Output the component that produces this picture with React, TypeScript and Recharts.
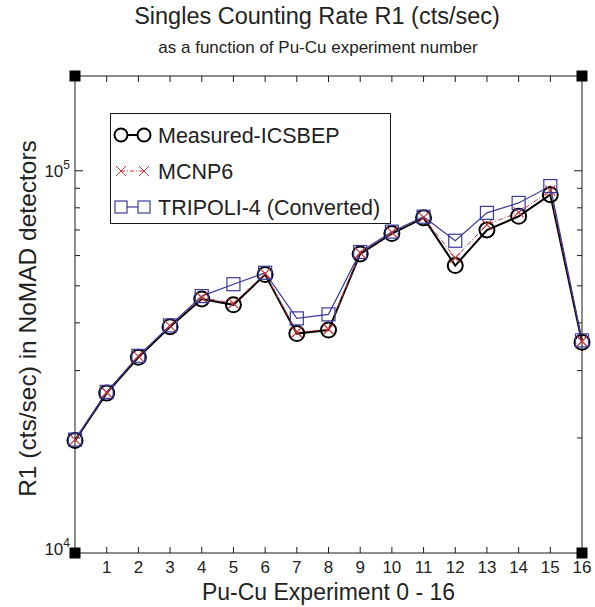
import React from "react";
import { LineChart, Line, XAxis, YAxis, Legend } from "recharts";

// Pu-Cu experiment number 0 - 16
const experiments = [0, 1, 2, 3, 4, 5, 6, 7, 8, 9, 10, 11, 12, 13, 14, 15, 16];

// singles counting rate R1 (cts/sec)
const measured = [19700, 26200, 32500, 39100, 46200, 44600, 53500, 37500, 38300, 60600, 68500, 75300, 56500, 70000, 76000, 86600, 35600];
const mcnp6 = [19800, 26300, 32700, 39300, 46600, 45000, 53800, 37800, 38500, 61000, 69000, 75500, 59200, 72300, 77800, 88700, 35800];
const tripoli = [19800, 26400, 32800, 39400, 47000, 50500, 54100, 41100, 42100, 61300, 69300, 75800, 65600, 77600, 82400, 91200, 36000];

const seriesNames = ["Measured-ICSBEP", "MCNP6", "TRIPOLI-4 (Converted)"];

const xTicks = [0, 1, 2, 3, 4, 5, 6, 7, 8, 9, 10, 11, 12, 13, 14, 15, 16];
const yTicks = [10000, 20000, 30000, 40000, 50000, 60000, 70000, 80000, 90000, 100000];
const yLabelled = [10000, 100000];
const yDomain = [10000, 177000];

const data = experiments.map((e, i) => ({
  exp: e,
  measured: measured[i],
  mcnp6: mcnp6[i],
  tripoli: tripoli[i],
}));

const FONT = '"Liberation Sans", Arial, Helvetica, sans-serif';
const INK = "#1a1a1a";
const RED = "#cc3333";
const BLUE = "#3a3a9c";

const Corner = ({ x, y }: { x: number; y: number }) => (
  <rect x={x - 5.5} y={y - 5.5} width={11} height={11} fill="#000" />
);

const isEnd = (v: number) => v === xTicks[0] || v === xTicks[xTicks.length - 1];

const BottomTick = (props: any) => {
  const { x, y, payload } = props;
  const v = payload.value;
  return (
    <g>
      {isEnd(v) ? <Corner x={x} y={y} /> : <line x1={x} y1={y} x2={x} y2={y - 6} stroke={INK} />}
      {v !== 0 && (
        <text x={x} y={y + 20} textAnchor="middle" fontSize={17} fill="#222" fontFamily={FONT}>
          {v}
        </text>
      )}
    </g>
  );
};

const TopTick = (props: any) => {
  const { x, y, payload } = props;
  const v = payload.value;
  return isEnd(v) ? <Corner x={x} y={y} /> : <line x1={x} y1={y} x2={x} y2={y + 6} stroke={INK} />;
};

const LeftTick = (props: any) => {
  const { x, y, payload } = props;
  const v = payload.value;
  const major = yLabelled.includes(v);
  return (
    <g>
      {v !== 10000 && <line x1={x} y1={y} x2={x + (major ? 8 : 5)} y2={y} stroke={INK} />}
      {major && (
        <text x={x - 5} y={v === 10000 ? y + 2 : y + 6} textAnchor="end" fontSize={17} fill="#222" fontFamily={FONT}>
          <tspan>10</tspan>
          <tspan dy={-8} fontSize={12}>
            {Math.round(Math.log10(v))}
          </tspan>
        </text>
      )}
    </g>
  );
};

const RightTick = (props: any) => {
  const { x, y, payload } = props;
  const v = payload.value;
  if (v === 10000) return <g />;
  const major = yLabelled.includes(v);
  return <line x1={x} y1={y} x2={x - (major ? 8 : 5)} y2={y} stroke={INK} />;
};

const YLabel = ({ viewBox }: any) => {
  const cx = viewBox.x + 13;
  const cy = viewBox.y + viewBox.height / 2 + 4;
  return (
    <text
      x={cx}
      y={cy + 8}
      transform={`rotate(-90 ${cx} ${cy})`}
      textAnchor="middle"
      fontSize={24.5}
      fill="#222"
      fontFamily={FONT}
    >
      R1 (cts/sec) in NoMAD detectors
    </text>
  );
};

const icon = (i: number, y: number) => {
  const a = 11;
  const b = 34;
  if (i === 0)
    return (
      <g>
        <line x1={a} y1={y} x2={b} y2={y} stroke="#000" strokeWidth={2} />
        <circle cx={a} cy={y} r={6.5} fill="#fff" stroke="#000" strokeWidth={2} />
        <circle cx={b} cy={y} r={6.5} fill="#fff" stroke="#000" strokeWidth={2} />
      </g>
    );
  if (i === 1)
    return (
      <g stroke={RED} strokeWidth={1}>
        <line x1={a} y1={y} x2={b} y2={y} strokeDasharray="4 2 1 2" />
        <path d={`M${a - 5},${y - 5}L${a + 5},${y + 5}M${a - 5},${y + 5}L${a + 5},${y - 5}`} />
        <path d={`M${b - 5},${y - 5}L${b + 5},${y + 5}M${b - 5},${y + 5}L${b + 5},${y - 5}`} />
      </g>
    );
  return (
    <g stroke={BLUE} strokeWidth={1.2}>
      <line x1={a} y1={y} x2={b} y2={y} />
      <rect x={a - 6} y={y - 6} width={12} height={12} fill="#fff" />
      <rect x={b - 6} y={y - 6} width={12} height={12} fill="#fff" />
    </g>
  );
};

const LegendBox = () => (
  <svg width={281} height={111} style={{ display: "block" }}>
    <rect x={0.5} y={0.5} width={280} height={110} fill="#fff" stroke={INK} />
    {seriesNames.map((name, i) => {
      const y = 22 + i * 36;
      return (
        <g key={name}>
          {icon(i, y)}
          <text x={48} y={y + 7.5} fontSize={21.5} fill="#222" fontFamily={FONT}>
            {name}
          </text>
        </g>
      );
    })}
  </svg>
);

const circleDot = (p: any) =>
  p.cx == null ? null : (
    <circle key={`m-${p.index}`} cx={p.cx} cy={p.cy} r={7.5} fill="none" stroke="#000" strokeWidth={2} />
  );

const crossDot = (p: any) =>
  p.cx == null ? null : (
    <path
      key={`x-${p.index}`}
      d={`M${p.cx - 5},${p.cy - 5}L${p.cx + 5},${p.cy + 5}M${p.cx - 5},${p.cy + 5}L${p.cx + 5},${p.cy - 5}`}
      stroke={RED}
      strokeWidth={1.2}
      fill="none"
    />
  );

const squareDot = (p: any) =>
  p.cx == null ? null : (
    <rect key={`s-${p.index}`} x={p.cx - 6.5} y={p.cy - 6.5} width={13} height={13} fill="none" stroke={BLUE} strokeWidth={1.2} />
  );

export default function App() {
  return (
    <div style={{ position: "absolute", left: 0, top: 0, width: 595, height: 607, background: "#fff", fontFamily: FONT }}>
      <LineChart width={595} height={607} data={data} margin={{ top: 75, right: 12, bottom: 0, left: 15 }}>
        <XAxis
          xAxisId="bottom"
          dataKey="exp"
          type="number"
          domain={[0, 16]}
          ticks={xTicks}
          interval={0}
          height={54}
          tickSize={0}
          tickMargin={0}
          tickLine={false}
          tick={<BottomTick />}
          axisLine={{ stroke: INK }}
          label={{ value: "Pu-Cu Experiment 0 - 16", position: "insideBottom", offset: 7, fontSize: 23, fill: "#222", fontFamily: FONT }}
        />
        <XAxis
          xAxisId="top"
          orientation="top"
          dataKey="exp"
          type="number"
          domain={[0, 16]}
          ticks={xTicks}
          interval={0}
          height={1}
          tickSize={0}
          tickMargin={0}
          tickLine={false}
          tick={<TopTick />}
          axisLine={{ stroke: INK }}
        />
        <YAxis
          yAxisId="left"
          type="number"
          scale="log"
          domain={yDomain}
          allowDataOverflow
          ticks={yTicks}
          interval={0}
          width={60}
          tickSize={0}
          tickMargin={0}
          tickLine={false}
          tick={<LeftTick />}
          axisLine={{ stroke: INK }}
          label={<YLabel />}
        />
        <YAxis
          yAxisId="right"
          orientation="right"
          type="number"
          scale="log"
          domain={yDomain}
          allowDataOverflow
          ticks={yTicks}
          interval={0}
          width={1}
          tickSize={0}
          tickMargin={0}
          tickLine={false}
          tick={<RightTick />}
          axisLine={{ stroke: INK }}
        />
        <Line
          xAxisId="bottom"
          yAxisId="left"
          dataKey="measured"
          name={seriesNames[0]}
          type="linear"
          stroke="#000"
          strokeWidth={2}
          dot={circleDot}
          activeDot={false}
          isAnimationActive={false}
        />
        <Line
          xAxisId="bottom"
          yAxisId="left"
          dataKey="mcnp6"
          name={seriesNames[1]}
          type="linear"
          stroke={RED}
          strokeWidth={1}
          strokeDasharray="5 2 1 2"
          dot={crossDot}
          activeDot={false}
          isAnimationActive={false}
        />
        <Line
          xAxisId="bottom"
          yAxisId="left"
          dataKey="tripoli"
          name={seriesNames[2]}
          type="linear"
          stroke={BLUE}
          strokeWidth={1.2}
          dot={squareDot}
          activeDot={false}
          isAnimationActive={false}
        />
        <Legend
          layout="vertical"
          align="center"
          verticalAlign="middle"
          content={<LegendBox />}
          wrapperStyle={{ left: 110, top: 113, width: 281, height: 111 }}
        />
      </LineChart>
      <div style={{ position: "absolute", left: 0, top: 5, width: 634, textAlign: "center", fontSize: 23.5, lineHeight: "23.5px", color: "#222" }}>
        Singles Counting Rate R1 (cts/sec)
      </div>
      <div style={{ position: "absolute", left: 0, top: 39, width: 636, textAlign: "center", fontSize: 17, lineHeight: "17px", color: "#222" }}>
        as a function of Pu-Cu experiment number
      </div>
    </div>
  );
}
